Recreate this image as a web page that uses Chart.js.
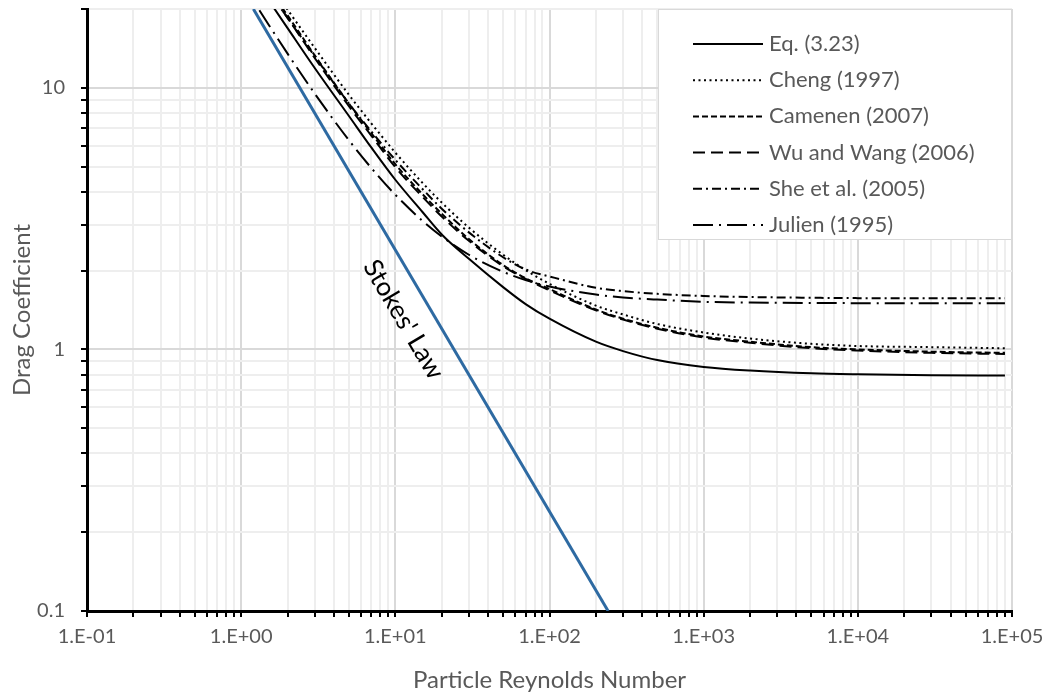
<!DOCTYPE html>
<html lang="en">
<head>
  <meta charset="UTF-8" />
  <title>Drag coefficient vs particle Reynolds number</title>
  <script src="https://cdn.jsdelivr.net/npm/chart.js"></script>
  <style>
    html, body { margin: 0; padding: 0; background: #fff; }
    #wrap { width: 1048px; height: 697px; }
  </style>
</head>
<body>
  <div id="wrap"><canvas id="dragChart"></canvas></div>

  <script>
    // values (log-log)
    const reynolds = [1, 1.5, 2, 3, 5, 7, 10, 15, 20, 30, 50, 70, 100, 200, 300, 500, 1000, 2000, 5000, 10000, 30000, 90000];
    const cdEq323   = [31, 21.7, 16.9, 11.9, 7.8, 5.9, 4.45, 3.35, 2.75, 2.22, 1.73, 1.49, 1.31, 1.07, 0.985, 0.91, 0.857, 0.83, 0.81, 0.803, 0.797, 0.794];
    const cdCheng   = [37, 25.6, 19.9, 14.2, 9.4, 7.3, 5.65, 4.33, 3.64, 2.92, 2.3, 2.01, 1.78, 1.47, 1.36, 1.25, 1.16, 1.1, 1.05, 1.03, 1.02, 1.01];
    const cdCamenen = [34, 24, 18.9, 13.3, 8.7, 6.7, 5.1, 3.92, 3.3, 2.64, 2.1, 1.87, 1.7, 1.42, 1.31, 1.21, 1.12, 1.07, 1.02, 1.0, 0.98, 0.97];
    const cdWuWang  = [33, 23.5, 18.5, 13.0, 8.5, 6.55, 4.97, 3.83, 3.22, 2.6, 2.08, 1.86, 1.68, 1.41, 1.3, 1.2, 1.11, 1.06, 1.01, 0.99, 0.97, 0.96];
    const cdShe     = [33, 23.5, 18.5, 13.2, 8.7, 6.8, 5.3, 4.1, 3.45, 2.8, 2.25, 2.02, 1.9, 1.72, 1.67, 1.63, 1.6, 1.585, 1.575, 1.57, 1.57, 1.57];
    const cdJulien  = [25.5, 17.5, 13.5, 9.5, 6.3, 4.93, 3.9, 3.1, 2.7, 2.3, 1.98, 1.84, 1.74, 1.62, 1.58, 1.55, 1.52, 1.51, 1.505, 1.502, 1.5, 1.5];

    const stokesRe = [1.2, 240];
    const stokesCd = [20, 0.1];

    const seriesNames = ["Eq. (3.23)", "Cheng (1997)", "Camenen (2007)", "Wu and Wang (2006)", "She et al. (2005)", "Julien (1995)"];
    const xTickLabels = ["1.E-01", "1.E+00", "1.E+01", "1.E+02", "1.E+03", "1.E+04", "1.E+05"];
    const yTickLabels = ["0.1", "1", "10"];

    const curves = [cdEq323, cdCheng, cdCamenen, cdWuWang, cdShe, cdJulien];
    const dashes = [[], [2, 3.5], [6, 3], [12, 6], [9, 4, 2, 4], [20, 6, 2, 6]];
    const textGrey = "#595959";

    const toPoints = (xs, ys) => xs.map((x, i) => ({ x: x, y: ys[i] }));
    const isDecade = v => Math.abs(Math.log10(v) - Math.round(Math.log10(v))) < 1e-9;

    // 1..9 x 10^n ticks up to 10^maxExp, plus any extra values above
    function logTicks(minExp, maxExp, extra) {
      const t = [];
      for (let e = minExp; e < maxExp; e++) {
        for (let m = 1; m < 10; m++) t.push(Number((m * Math.pow(10, e)).toPrecision(3)));
      }
      t.push(Math.pow(10, maxExp));
      return t.concat(extra || []).map(v => ({ value: v }));
    }

    const datasets = curves.map((cd, i) => ({
      label: seriesNames[i],
      data: toPoints(reynolds, cd),
      borderColor: "#000",
      borderWidth: 2,
      borderDash: dashes[i],
      borderCapStyle: "butt",
      pointRadius: 0,
      cubicInterpolationMode: "monotone",
      fill: false
    }));
    datasets.push({
      label: "Stokes' Law",
      data: toPoints(stokesRe, stokesCd),
      borderColor: "#2e6aa2",
      borderWidth: 3,
      pointRadius: 0,
      tension: 0,
      fill: false
    });

    // legend box + Stokes label
    const extras = {
      id: "extras",
      afterDatasetsDraw(chart) {
        const { ctx, chartArea, scales } = chart;

        // Stokes' Law text along the blue line
        const x0 = scales.x.getPixelForValue(stokesRe[0]), y0 = scales.y.getPixelForValue(stokesCd[0]);
        const x1 = scales.x.getPixelForValue(stokesRe[1]), y1 = scales.y.getPixelForValue(stokesCd[1]);
        ctx.save();
        ctx.translate(scales.x.getPixelForValue(11.3), scales.y.getPixelForValue(1.3));
        ctx.rotate(Math.atan2(y1 - y0, x1 - x0));
        ctx.font = "26px Lato";
        ctx.fillStyle = "#000";
        ctx.textAlign = "center";
        ctx.textBaseline = "middle";
        ctx.fillText("Stokes' Law", 0, 0);
        ctx.restore();

        // legend
        const left = chartArea.right - 354, top = chartArea.top;
        ctx.save();
        ctx.fillStyle = "#fff";
        ctx.fillRect(left, top, 354, 231);
        ctx.strokeStyle = "#d9d9d9";
        ctx.lineWidth = 1;
        ctx.strokeRect(left + 0.5, top + 0.5, 353, 230);
        ctx.font = "22px Lato";
        ctx.textBaseline = "middle";
        for (let i = 0; i < seriesNames.length; i++) {
          const y = top + 35 + i * 36.2;
          ctx.strokeStyle = "#000";
          ctx.lineWidth = 2;
          ctx.setLineDash(dashes[i]);
          ctx.beginPath();
          ctx.moveTo(left + 35, y);
          ctx.lineTo(left + 105, y);
          ctx.stroke();
          ctx.setLineDash([]);
          ctx.fillStyle = textGrey;
          ctx.fillText(seriesNames[i], left + 111, y);
        }
        ctx.restore();
      }
    };

    const ctx = document.getElementById("dragChart").getContext("2d");
    new Chart(ctx, {
      type: "line",
      data: { datasets: datasets },
      plugins: [extras],
      options: {
        responsive: true,
        maintainAspectRatio: false,
        animation: false,
        layout: { padding: { top: 9, right: 36, left: 0, bottom: 0 } },
        plugins: {
          legend: { display: false },
          tooltip: { enabled: false }
        },
        scales: {
          x: {
            type: "logarithmic",
            min: 0.1,
            max: 100000,
            afterBuildTicks: s => { s.ticks = logTicks(-1, 5); },
            afterFit: s => { s.height = 86; s.paddingLeft = 0; s.paddingRight = 0; },
            border: { color: "#000", width: 3 },
            grid: {
              color: c => isDecade(c.tick.value) ? "#d9d9d9" : "#eeeeee",
              lineWidth: 2,
              tickColor: "#000",
              tickWidth: 2,
              tickLength: 6
            },
            ticks: {
              autoSkip: false,
              maxRotation: 0,
              minRotation: 0,
              padding: 8,
              color: textGrey,
              font: { family: "Lato", size: 20 },
              callback: v => isDecade(v) ? xTickLabels[Math.round(Math.log10(v)) + 1] : ""
            },
            title: {
              display: true,
              text: "Particle Reynolds Number",
              color: textGrey,
              font: { family: "Lato", size: 24 },
              padding: { top: 2, bottom: 2 }
            }
          },
          y: {
            type: "logarithmic",
            min: 0.1,
            max: 20,
            afterBuildTicks: s => { s.ticks = logTicks(-1, 1, [20]); },
            afterFit: s => { s.width = 87; s.paddingTop = 0; s.paddingBottom = 0; },
            border: { color: "#000", width: 3 },
            grid: {
              color: c => isDecade(c.tick.value) ? "#d9d9d9" : "#eeeeee",
              lineWidth: 2,
              tickColor: "#000",
              tickWidth: 2,
              tickLength: 6
            },
            ticks: {
              autoSkip: false,
              padding: 16,
              color: textGrey,
              font: { family: "Lato", size: 20 },
              callback: v => isDecade(v) ? yTickLabels[Math.round(Math.log10(v)) + 1] : ""
            },
            title: {
              display: true,
              text: "Drag Coefficient",
              color: textGrey,
              font: { family: "Lato", size: 24 },
              padding: { top: 8, bottom: 0 }
            }
          }
        }
      }
    });
  </script>
</body>
</html>
